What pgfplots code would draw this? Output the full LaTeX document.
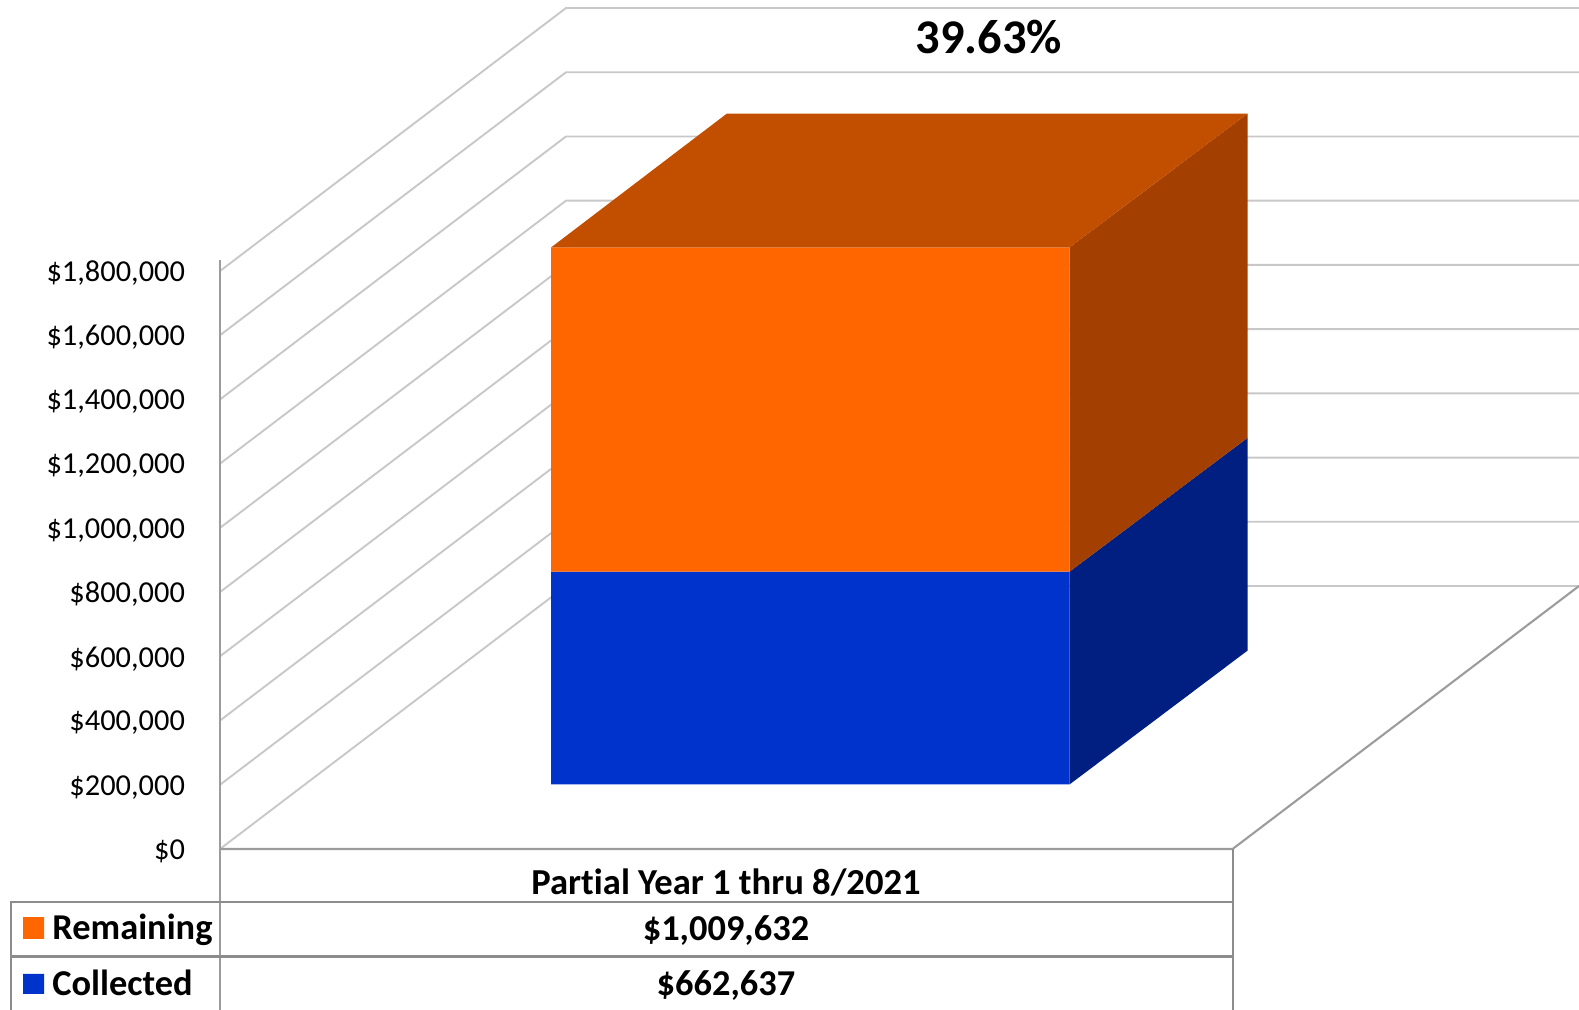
\documentclass[border=0pt]{standalone}
\usepackage{pgfplots}
\pgfplotsset{compat=1.18}
\usepackage{fontspec}
\setmainfont{Carlito}
\definecolor{orangeF}{HTML}{FF6600}
\definecolor{orangeT}{HTML}{C24E00}
\definecolor{orangeS}{HTML}{A33F00}
\definecolor{blueF}{HTML}{0033CC}
\definecolor{blueS}{HTML}{001F80}
\definecolor{gridc}{HTML}{C8C8C8}
\definecolor{axc}{HTML}{9C9C9C}
\definecolor{tabc}{HTML}{8C8C8C}
\begin{document}
\begin{tikzpicture}
\begin{axis}[
  scale only axis, width=789.5pt, height=505pt,
  xmin=0, xmax=1579, ymin=-501400, ymax=2644000,
  xtick=\empty,
  ytick={0,200000,400000,600000,800000,1000000,1200000,1400000,1600000,1800000},
  yticklabels={{\$0},{\$200,000},{\$400,000},{\$600,000},{\$800,000},{\$1,000,000},{\$1,200,000},{\$1,400,000},{\$1,600,000},{\$1,800,000}},
  yticklabel style={font=\fontsize{15.2}{16}\selectfont, anchor=east, xshift=96pt, yshift=-1.2pt},
  axis line style={draw=none},
  major tick length=0pt,
  tick style={draw=none},
  scaled y ticks=false,
]
% depth gridlines
\addplot[gridc,line width=0.95pt] coordinates {(220,1800000)(566,2619000)(1579,2619000)};
\addplot[gridc,line width=0.95pt] coordinates {(220,1600000)(566,2419000)(1579,2419000)};
\addplot[gridc,line width=0.95pt] coordinates {(220,1400000)(566,2219000)(1579,2219000)};
\addplot[gridc,line width=0.95pt] coordinates {(220,1200000)(566,2019000)(1579,2019000)};
\addplot[gridc,line width=0.95pt] coordinates {(220,1000000)(566,1819000)(1579,1819000)};
\addplot[gridc,line width=0.95pt] coordinates {(220,800000)(566,1619000)(1579,1619000)};
\addplot[gridc,line width=0.95pt] coordinates {(220,600000)(566,1419000)(1579,1419000)};
\addplot[gridc,line width=0.95pt] coordinates {(220,400000)(566,1219000)(1579,1219000)};
\addplot[gridc,line width=0.95pt] coordinates {(220,200000)(566,1019000)(1579,1019000)};
\addplot[gridc,line width=0.95pt] coordinates {(220,0)(566,819000)(1579,819000)};
% floor
\addplot[axc,line width=1.05pt] coordinates {(220,0)(1232.6,0)(1579,819000)};
% bar
\addplot[blueS,fill=blueS,draw=none] coordinates {(1069.5,200900)(1247.7,618200)(1247.7,1280837)(1069.5,863537)(1069.5,200900)};
\addplot[orangeS,fill=orangeS,draw=none] coordinates {(1069.5,863537)(1247.7,1280837)(1247.7,2290469)(1069.5,1873169)(1069.5,863537)};
\addplot[orangeT,fill=orangeT,draw=none] coordinates {(551,1873169)(727,2290469)(1247.7,2290469)(1069.5,1873169)(551,1873169)};
\addplot[blueF,fill=blueF,draw=none] coordinates {(551,200900)(1069.5,200900)(1069.5,863537)(551,863537)(551,200900)};
\addplot[orangeF,fill=orangeF,draw=none] coordinates {(551,863537)(1069.5,863537)(1069.5,1873169)(551,1873169)(551,863537)};
% axis and data table
\addplot[axc,line width=1.1pt] coordinates {(220,1834000)(220,-501400)};
\addplot[tabc,line width=1pt] coordinates {(1232.6,0)(1232.6,-501400)};
\addplot[tabc,line width=1.15pt] coordinates {(11,-501400)(11,-165000)(1232.6,-165000)};
\addplot[tabc,line width=1.15pt] coordinates {(11,-335000)(1232.6,-335000)};
\addplot[orangeF,fill=orangeF,draw=none] coordinates {(23,-212000)(44,-212000)(44,-280000)(23,-280000)(23,-212000)};
\addplot[blueF,fill=blueF,draw=none] coordinates {(23,-389000)(44,-389000)(44,-451000)(23,-451000)(23,-389000)};
\node[font=\bfseries\fontsize{24.2}{26}\selectfont] at (axis cs:989,2528800) {39.63\%};
\node[font=\bfseries\fontsize{18.3}{20}\selectfont] at (axis cs:726,-102800) {Part\kern0pt ial Year 1 thru 8/2021};
\node[font=\bfseries\fontsize{18.2}{20}\selectfont] at (axis cs:726,-252500) {\$1,009,632};
\node[font=\bfseries\fontsize{18.2}{20}\selectfont] at (axis cs:726,-423800) {\$662,637};
\node[font=\bfseries\fontsize{18.2}{20}\selectfont,anchor=west,inner sep=0pt] at (axis cs:52,-251000) {Remaining};
\node[font=\bfseries\fontsize{18.2}{20}\selectfont,anchor=west,inner sep=0pt] at (axis cs:52,-417300) {Collected};
\end{axis}
\end{tikzpicture}
\end{document}
